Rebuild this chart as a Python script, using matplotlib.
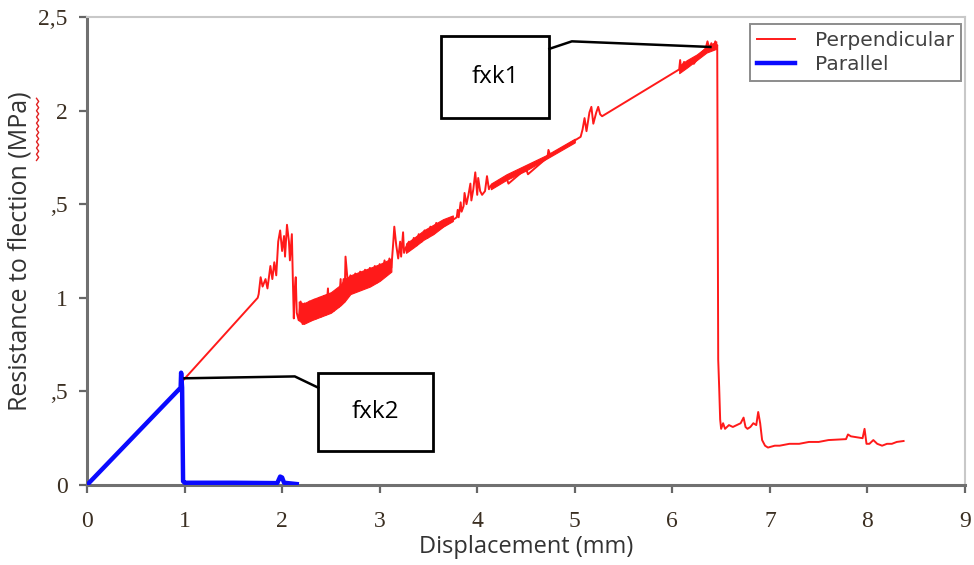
import matplotlib
matplotlib.use("Agg")
import matplotlib.pyplot as plt
from matplotlib.patches import Rectangle
from matplotlib.lines import Line2D


# Perpendicular curve (displacement mm, MPa)
perp_x = [0.97, 1.75, 1.76, 1.78, 1.80, 1.83, 1.85, 1.88, 1.90, 1.92, 1.94, 1.96, 1.98, 2.00,
          2.02, 2.03, 2.05, 2.07, 2.08, 2.10, 2.11, 2.12, 2.13, 2.14, 2.15, 2.17,
          2.19, 2.21, 2.23, 2.25, 2.28, 2.30, 2.33, 2.35, 2.38, 2.40, 2.43, 2.45, 2.47, 2.48,
          2.51, 2.53, 2.56, 2.58, 2.60, 2.61, 2.63, 2.64, 2.65, 2.67, 2.68, 2.70, 2.72, 2.75,
          2.77, 2.80, 2.82, 2.85, 2.87, 2.90, 2.92, 2.95, 2.97, 3.00, 3.02, 3.05, 3.07, 3.10,
          3.12, 3.14, 3.15, 3.17, 3.19, 3.21, 3.22, 3.24, 3.25, 3.27,
          3.30, 3.32, 3.35, 3.38, 3.40, 3.43, 3.46, 3.49, 3.52, 3.55, 3.58, 3.62,
          3.79, 3.80, 3.81, 3.83, 3.84, 3.86, 3.87, 3.89, 3.91, 3.93, 3.94, 3.96, 3.98, 4.00,
          4.01, 4.03, 4.05, 4.08, 4.10, 4.12, 4.14, 4.30, 4.32, 4.50, 4.52, 4.72, 4.73, 4.75,
          5.06, 5.08, 5.10, 5.12, 5.15, 5.17, 5.19, 5.22, 5.24, 5.26, 5.28,
          6.07, 6.08, 6.09, 6.12, 6.14, 6.20, 6.22, 6.30, 6.34, 6.36, 6.38, 6.40, 6.42, 6.44,
          6.45, 6.46, 6.47, 6.48, 6.49, 6.50, 6.52, 6.54, 6.58, 6.62, 6.66, 6.70, 6.73, 6.75,
          6.77, 6.80, 6.83, 6.86, 6.88, 6.90, 6.92, 6.95, 6.98, 7.05, 7.10, 7.20, 7.30, 7.40,
          7.50, 7.60, 7.78, 7.80, 7.83, 7.95, 7.97, 7.99, 8.02, 8.06, 8.10, 8.15, 8.20, 8.25,
          8.30, 8.37]
perp_y = [0.55, 1.00, 1.02, 1.11, 1.06, 1.10, 1.05, 1.17, 1.10, 1.19, 1.12, 1.30, 1.36, 1.25,
          1.33, 1.22, 1.39, 1.30, 1.20, 1.34, 1.10, 0.89, 1.05, 1.11, 0.92, 0.88,
          0.98, 0.86, 0.97, 0.87, 0.98, 0.88, 0.99, 0.89, 1.00, 0.90, 1.01, 0.91, 1.05, 0.92,
          1.02, 0.93, 1.03, 0.95, 1.10, 0.97, 1.10, 0.98, 1.22, 1.10, 1.03, 1.12, 1.03, 1.13,
          1.04, 1.14, 1.05, 1.15, 1.06, 1.16, 1.07, 1.17, 1.08, 1.18, 1.10, 1.20, 1.12, 1.21,
          1.16, 1.30, 1.38, 1.28, 1.21, 1.30, 1.22, 1.35, 1.24, 1.27,
          1.30, 1.26, 1.32, 1.28, 1.34, 1.30, 1.36, 1.32, 1.38, 1.34, 1.40, 1.37,
          1.43, 1.47, 1.43, 1.51, 1.46, 1.49, 1.56, 1.50, 1.55, 1.61, 1.52, 1.58, 1.67, 1.55,
          1.64, 1.57, 1.55, 1.57, 1.65, 1.58, 1.60, 1.64, 1.61, 1.69, 1.66, 1.75, 1.79, 1.76,
          1.86, 1.90, 1.96, 1.89, 1.99, 2.02, 1.93, 1.99, 2.02, 1.98, 1.97,
          2.22, 2.27, 2.22, 2.26, 2.23, 2.27, 2.25, 2.31, 2.33, 2.37, 2.33, 2.36, 2.33, 2.37,
          2.33, 2.35, 0.67, 0.52, 0.35, 0.30, 0.33, 0.30, 0.32, 0.31, 0.32, 0.33, 0.36, 0.31,
          0.30, 0.31, 0.33, 0.32, 0.39, 0.33, 0.24, 0.21, 0.20, 0.21, 0.21, 0.22, 0.22, 0.23,
          0.23, 0.24, 0.245, 0.27, 0.26, 0.25, 0.30, 0.22, 0.22, 0.24, 0.22, 0.21, 0.22, 0.22,
          0.23, 0.235]

# dense oscillation bands of the perpendicular curve (lower / upper envelope)
band_x = [2.17, 2.22, 2.30, 2.40, 2.50, 2.60, 2.64, 2.70, 2.80, 2.90, 3.00, 3.12]
band_lo = [0.88, 0.86, 0.88, 0.90, 0.92, 0.96, 0.98, 1.02, 1.04, 1.06, 1.09, 1.14]
band_hi = [0.98, 0.97, 0.99, 1.01, 1.03, 1.07, 1.10, 1.12, 1.14, 1.16, 1.18, 1.21]
band2_x = [3.27, 3.35, 3.45, 3.55, 3.65, 3.75]
band2_lo = [1.24, 1.27, 1.31, 1.34, 1.38, 1.41]
band2_hi = [1.29, 1.32, 1.36, 1.39, 1.42, 1.44]
band3_x = [4.14, 4.30, 4.50, 4.70, 5.00]
band3_lo = [1.58, 1.63, 1.68, 1.74, 1.83]
band3_hi = [1.61, 1.66, 1.71, 1.76, 1.85]
band4_x = [6.07, 6.15, 6.25, 6.35, 6.45]
band4_lo = [2.20, 2.23, 2.27, 2.31, 2.33]
band4_hi = [2.24, 2.27, 2.30, 2.34, 2.37]

# Parallel curve
par_x = [0.0, 0.96, 0.965, 0.975, 0.985, 1.0, 1.5, 1.95, 1.98, 2.0, 2.02, 2.15]
par_y = [0.0, 0.52, 0.60, 0.52, 0.02, 0.012, 0.012, 0.010, 0.045, 0.04, 0.012, 0.005]

x_ticks = [0, 1, 2, 3, 4, 5, 6, 7, 8, 9]
y_ticks = [0, 0.5, 1, 1.5, 2, 2.5]
y_tick_labels = ["0", ",5", "1", ",5", "2", "2,5"]

# annotation boxes (left, bottom, width, height) and leader paths
fxk1_box = (3.63, 1.96, 1.11, 0.44)
fxk1_leader = ([4.74, 4.97, 6.39], [2.33, 2.37, 2.34])
fxk2_box = (2.37, 0.18, 1.18, 0.42)
fxk2_leader = ([2.37, 2.13, 1.00], [0.52, 0.58, 0.57])


fig = plt.figure(figsize=(9.74, 5.65), dpi=100)
ax = fig.add_axes([0.0893, 0.1416, 0.9015, 0.8283])

red = "#ff1a1a"
ax.plot(perp_x, perp_y, color=red, lw=1.4, label="Perpendicular", zorder=3)
for bx, lo, hi in [(band_x, band_lo, band_hi), (band2_x, band2_lo, band2_hi),
                   (band3_x, band3_lo, band3_hi), (band4_x, band4_lo, band4_hi)]:
    ax.fill_between(bx, lo, hi, color=red, lw=0.8, zorder=3)
ax.plot(par_x, par_y, color="#0a0aff", lw=3.2, label="Parallel", zorder=4,
        solid_joinstyle="round")

ax.set_xlim(0, 9)
ax.set_ylim(0, 2.5)
ax.set_xticks(x_ticks)
ax.set_yticks(y_ticks)
ax.set_yticklabels(y_tick_labels)

ax.tick_params(axis="both", direction="out", length=6, width=1.6, colors="#666666",
               labelcolor="#3b2f22", labelsize=17, labelfontfamily="Liberation Serif")
ax.tick_params(axis="x", pad=13)
ax.tick_params(axis="y", pad=8)

for side in ["left", "bottom"]:
    ax.spines[side].set_color("#707070")
    ax.spines[side].set_linewidth(2.2)
for side in ["top", "right"]:
    ax.spines[side].set_color("#c8c8c8")
    ax.spines[side].set_linewidth(1.5)

ax.set_xlabel("Displacement (mm)", family="Open Sans", fontsize=17, color="#333333",
              labelpad=2)
ax.set_ylabel("Resistance to flection (MPa)", family="Open Sans", fontsize=18,
              color="#333333", labelpad=4)

# annotation boxes with leader lines
for box, leader, text in [(fxk1_box, fxk1_leader, "fxk1"), (fxk2_box, fxk2_leader, "fxk2")]:
    x0, y0, w, h = box
    ax.add_patch(Rectangle((x0, y0), w, h, fill=True, facecolor="white",
                           edgecolor="black", lw=2, zorder=5))
    ax.text(x0 + w / 2, y0 + h / 2, text, ha="center", va="center",
            family="Open Sans", fontsize=17.5, color="black", zorder=6)
    ax.plot(leader[0], leader[1], color="black", lw=1.8, zorder=5)

leg = ax.legend(loc="upper right", bbox_to_anchor=(0.9955, 0.985), frameon=True,
                fancybox=False, edgecolor="#707070", handlelength=1.9,
                handletextpad=1.0, borderpad=0.35, borderaxespad=0.0,
                labelspacing=0.25, prop=dict(family="DejaVu Sans", size=14.5))
leg.get_frame().set_linewidth(1.4)
for t in leg.get_texts():
    t.set_color("#404040")

# red spell-check squiggle under "(MPa)"
sq_y = [0.826 - i * 0.0055 for i in range(21)]
sq_x = [0.0375 + (0.0022 if i % 2 else 0.0) for i in range(21)]
fig.add_artist(Line2D(sq_x, sq_y, color="#e02020", lw=1.0))

fig.savefig("out.png", dpi=100)
